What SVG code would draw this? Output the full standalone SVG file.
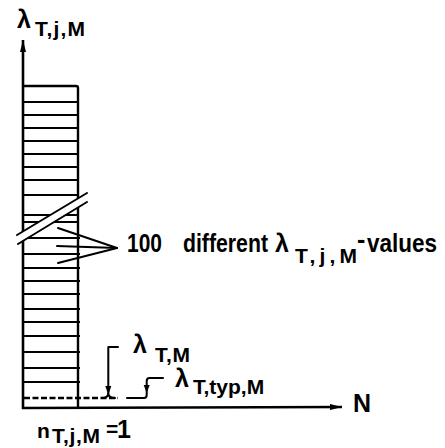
<svg xmlns="http://www.w3.org/2000/svg" width="445" height="448" viewBox="0 0 445 448">
<style>
  .ax { stroke:#000; stroke-width:2.6; fill:none; }
  .edge { stroke:#000; stroke-width:2.4; fill:none; stroke-linejoin:round; }
  .st { stroke:#000; stroke-width:2; fill:none; }
  .ln { stroke:#000; stroke-width:2; fill:none; stroke-linecap:round; stroke-linejoin:round; }
  .t { font-family:"Liberation Sans", Arial, sans-serif; font-weight:bold; font-size:25px; fill:#000; }
  .s { font-family:"Liberation Sans", Arial, sans-serif; font-weight:bold; font-size:21px; fill:#000; }
</style>
<defs>
  <marker id="ah" viewBox="0 0 12 6" refX="12" refY="3" markerWidth="12" markerHeight="6" markerUnits="userSpaceOnUse" orient="auto">
    <path d="M0,0 L12,3 L0,6 Z" fill="#000"/>
  </marker>
</defs>
<rect width="445" height="448" fill="#fff"/>

<g id="histogram">
  <g class="st">
    <line x1="23" y1="102" x2="79" y2="102"/>
    <line x1="23" y1="115" x2="79" y2="115"/>
    <line x1="23" y1="128" x2="79" y2="128"/>
    <line x1="23" y1="141" x2="79" y2="141"/>
    <line x1="23" y1="154" x2="79" y2="154"/>
    <line x1="23" y1="167" x2="79" y2="167"/>
    <line x1="23" y1="180" x2="79" y2="180"/>
    <line x1="23" y1="195" x2="79" y2="195"/>
    <line x1="23" y1="215" x2="79" y2="215"/>
    <line x1="23" y1="222" x2="79" y2="222"/>
    <line x1="23" y1="238" x2="80" y2="238"/>
    <line x1="23" y1="254" x2="80" y2="254"/>
    <line x1="23" y1="268" x2="80" y2="268"/>
    <line x1="23" y1="281" x2="80" y2="281"/>
    <line x1="23" y1="294" x2="80" y2="294"/>
    <line x1="23" y1="309" x2="80" y2="309"/>
    <line x1="23" y1="322" x2="80" y2="322"/>
    <line x1="23" y1="336" x2="80" y2="336"/>
    <line x1="23" y1="352" x2="80" y2="352"/>
    <line x1="23" y1="368" x2="80" y2="368"/>
    <line x1="23" y1="382" x2="80" y2="382"/>
  </g>
  <path class="edge" d="M23,86 L76,86 Q78,86 78,88 L78,408"/>
</g>

<g id="axes">
  <line class="ax" x1="23" y1="409" x2="23" y2="40" marker-end="url(#ah)"/>
  <line class="ax" x1="22" y1="408" x2="342" y2="407" marker-end="url(#ah)"/>
</g>

<g id="break">
  <polygon points="15,236 88,192 88,201 15,245" fill="#fff"/>
  <line class="ln" x1="17" y1="235" x2="87" y2="193"/>
  <line class="ln" x1="18" y1="244" x2="87" y2="202"/>
</g>

<g id="connectors">
  <line class="ln" x1="58" y1="228" x2="117" y2="248"/>
  <line class="ln" x1="57" y1="246" x2="117" y2="248"/>
  <line class="ln" x1="58" y1="263" x2="117" y2="248"/>
  <line x1="24" y1="398" x2="118" y2="398" stroke="#000" stroke-width="2.4" stroke-dasharray="6,2.5"/>
  <path class="ln" d="M118,347 L108.3,347 L108.3,393 Q108.3,398 102,398 M108.3,393 Q108.3,398 115,398"/>
  <polygon points="105.3,386 111.3,386 108.3,395" fill="#000"/>
  <path class="ln" d="M127,398 L144,398 Q146.7,398 146.7,395 L146.7,381 Q146.7,378 149.5,378 L163,378"/>
  <polygon points="143.7,385 149.7,385 146.7,393" fill="#000"/>
</g>

<g id="label-y">
  <text class="t" x="17" y="28" font-size="23px">λ</text>
  <text class="s" x="35" y="36" textLength="50" lengthAdjust="spacing">T,j,M</text>
</g>

<g id="label-100">
  <text class="t" transform="translate(127,252) scale(0.84,1)">100</text>
  <text class="t" transform="translate(183,252) scale(0.85,1)">different</text>
  <text class="t" x="275" y="252">λ</text>
  <text class="s" x="295" y="263" textLength="62" lengthAdjust="spacing">T,j,M</text>
  <text class="t" x="357" y="248">-</text>
  <text class="t" transform="translate(367,252) scale(0.9,1)">values</text>
</g>

<g id="label-TM">
  <text class="t" x="133" y="353">λ</text>
  <text class="s" x="155" y="362" textLength="35" lengthAdjust="spacing">T,M</text>
</g>

<g id="label-Ttyp">
  <text class="t" x="175" y="387">λ</text>
  <text class="s" x="193" y="394">T,typ,M</text>
</g>

<g id="label-N">
  <text class="t" x="353" y="412" font-size="21px">N</text>
</g>

<g id="label-n">
  <text class="s" x="37" y="438">n</text>
  <text class="s" x="52" y="443" font-size="16px" textLength="48" lengthAdjust="spacing">T,j,M</text>
  <text class="s" x="106" y="436" font-size="13px">=</text>
  <text class="t" x="117" y="438" font-size="21px">1</text>
</g>
</svg>
